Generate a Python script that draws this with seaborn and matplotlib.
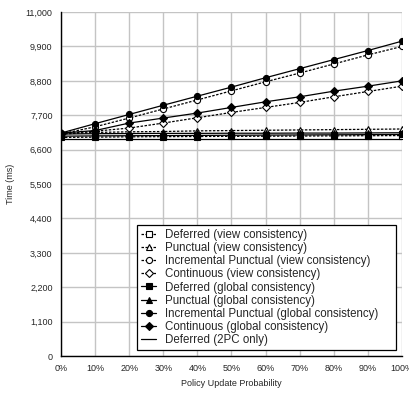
import matplotlib
matplotlib.use("Agg")
import matplotlib.pyplot as plt
import seaborn as sns
import pandas as pd

probability = [0, 10, 20, 30, 40, 50, 60, 70, 80, 90, 100]

deferred_view = [6990, 7000, 7010, 7015, 7020, 7025, 7030, 7035, 7040, 7045, 7050]
punctual_view = [7100, 7150, 7170, 7180, 7200, 7210, 7220, 7230, 7240, 7250, 7260]
inc_punctual_view = [7100, 7330, 7610, 7900, 8190, 8480, 8770, 9050, 9340, 9630, 9900]
continuous_view = [7100, 7190, 7290, 7450, 7620, 7790, 7950, 8110, 8290, 8460, 8630]
deferred_global = [7030, 7040, 7045, 7050, 7055, 7060, 7065, 7070, 7075, 7080, 7085]
punctual_global = [7100, 7110, 7115, 7120, 7120, 7125, 7125, 7130, 7130, 7135, 7140]
inc_punctual_global = [7130, 7430, 7725, 8020, 8310, 8600, 8900, 9190, 9480, 9770, 10070]
continuous_global = [7130, 7210, 7450, 7610, 7770, 7950, 8130, 8290, 8470, 8630, 8800]
deferred_2pc = [6930, 6930, 6930, 6930, 6930, 6930, 6930, 6930, 6930, 6930, 6930]

y_ticks = [0, 1100, 2200, 3300, 4400, 5500, 6600, 7700, 8800, 9900, 11000]
x_ticks = [0, 10, 20, 30, 40, 50, 60, 70, 80, 90, 100]

series = [
    ("Deferred (view consistency)", deferred_view, "s", "white", (0, (2, 1.2))),
    ("Punctual (view consistency)", punctual_view, "^", "white", (0, (2, 1.2))),
    ("Incremental Punctual (view consistency)", inc_punctual_view, "o", "white", (0, (2, 1.2))),
    ("Continuous (view consistency)", continuous_view, "D", "white", (0, (2, 1.2))),
    ("Deferred (global consistency)", deferred_global, "s", "black", "-"),
    ("Punctual (global consistency)", punctual_global, "^", "black", "-"),
    ("Incremental Punctual (global consistency)", inc_punctual_global, "o", "black", "-"),
    ("Continuous (global consistency)", continuous_global, "D", "black", "-"),
    ("Deferred (2PC only)", deferred_2pc, None, None, "-"),
]

sns.set_style("white")
plt.rcParams["font.family"] = ["Liberation Sans", "DejaVu Sans"]

fig = plt.figure(figsize=(4.09, 3.94), dpi=100)
ax = fig.add_axes([0.149, 0.0964, 0.834, 0.873])

for name, values, marker, face, ls in series:
    df = pd.DataFrame({"p": probability, "t": values})
    kw = dict(data=df, x="p", y="t", ax=ax, color="black", linewidth=0.9,
              linestyle=ls, label=name)
    if marker is not None:
        size = 4.0 if marker == "D" else 4.4
        kw.update(marker=marker, markersize=size, markerfacecolor=face,
                  markeredgecolor="black", markeredgewidth=0.8)
    sns.lineplot(**kw)

ax.set_xlim(0, 100)
ax.set_ylim(0, 11000)
ax.set_xticks(x_ticks)
ax.set_xticklabels([f"{v}%" for v in x_ticks], fontsize=6.5)
ax.set_yticks(y_ticks)
ax.set_yticklabels([f"{v:,}" for v in y_ticks], fontsize=6.5)
ax.tick_params(axis="both", length=0, pad=6)
ax.grid(True, color="#c4c4c4", linewidth=1.0)
ax.set_axisbelow(True)
for side in ("top", "right"):
    ax.spines[side].set_visible(False)
for side in ("left", "bottom"):
    ax.spines[side].set_color("black")
    ax.spines[side].set_linewidth(1.0)

ax.set_xlabel("Policy Update Probability", fontsize=6.5, labelpad=4)
ax.set_ylabel("Time (ms)", fontsize=6.5, labelpad=8)

leg = ax.legend(loc="lower left", bbox_to_anchor=(0.223, 0.017, 0.76, 0.2),
                mode="expand", fontsize=8.3,
                frameon=True, fancybox=False, handlelength=1.3,
                handletextpad=0.8, labelspacing=0.1, borderpad=0.35,
                borderaxespad=0)
leg.get_frame().set_edgecolor("black")
leg.get_frame().set_linewidth(0.9)
leg.get_frame().set_alpha(1)

fig.savefig("out.png", dpi=100)
